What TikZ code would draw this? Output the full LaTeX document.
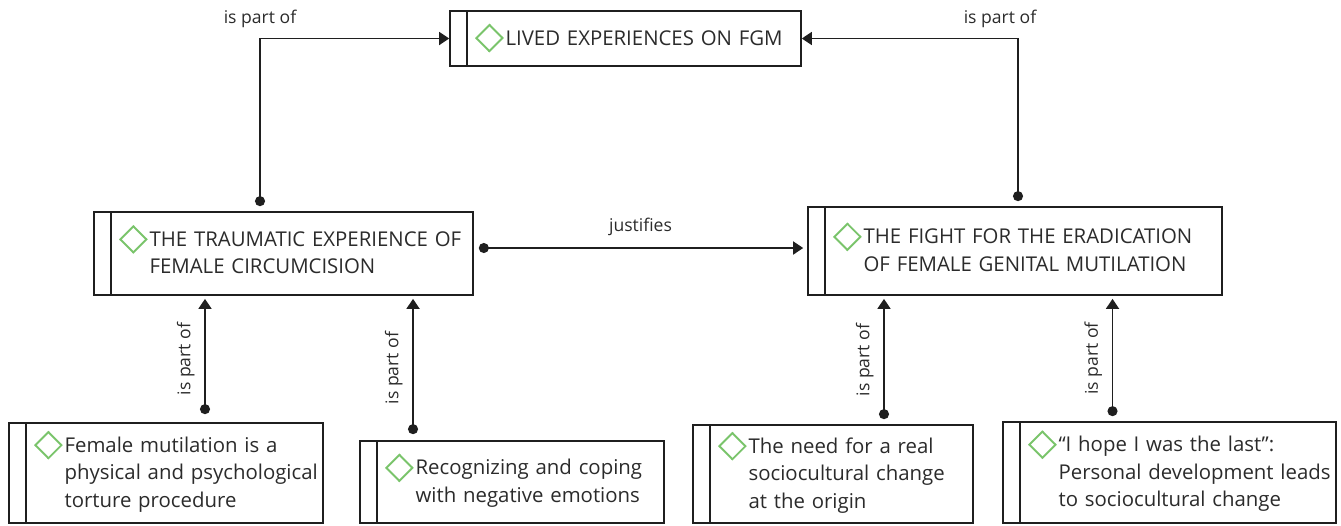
\documentclass[tikz,border=0pt]{standalone}
\usepackage{fontspec}
\setmainfont{Open Sans}
\usetikzlibrary{arrows.meta}
\definecolor{gemgreen}{rgb}{0.48, 0.77, 0.42}
\definecolor{textgray}{rgb}{0.17, 0.17, 0.17}
\definecolor{linegray}{rgb}{0.12, 0.12, 0.12}
\newcommand{\boxfont}{\fontsize{11.6}{15.6}\selectfont}
\newcommand{\lblfont}{\fontsize{10}{12}\selectfont}
\newcommand{\gem}{\raisebox{-3.4pt}{\rotatebox{45}{\textcolor{gemgreen}{\setlength{\fboxrule}{1.1pt}\setlength{\fboxsep}{0pt}\fbox{\rule{0pt}{0.33cm}\hspace{0.33cm}}}}}}
\newcommand{\codetext}[1]{\mbox{\hspace*{0.5cm}\gem\hspace{1pt}\begin{tabular}[t]{@{}l@{}}#1\end{tabular}}}

\begin{document}
\begin{tikzpicture}[x=0.02cm, y=-0.02cm,
        code/.style 2 args={draw=linegray, line width=1pt, text width=#1, minimum height=#2,
            inner xsep=0pt, align=left, font=\boxfont, text=textgray,
            path picture={\draw[linegray, line width=1pt]
                ([xshift=0.34cm]path picture bounding box.north west) --
                ([xshift=0.34cm]path picture bounding box.south west);}},
        rel/.style={draw=linegray, line width=1pt,
            {Circle[length=0.2cm]}-{Triangle[length=0.2cm, width=0.26cm]}},
        lbl/.style={font=\lblfont, text=textgray, inner sep=2pt}]
        \useasboundingbox (0, 0) rectangle (1341, 525);
        \node[code={7.02cm}{1.1cm}] (lived) at (625.5, 38.5) {\codetext{LIVED EXPERIENCES ON FGM}};
        \node[code={7.58cm}{1.66cm}] (trauma) at (283.5, 253.5) {\codetext{THE TRAUMATIC EXPERIENCE OF\\FEMALE CIRCUMCISION}};
        \node[code={8.28cm}{1.76cm}] (fight) at (1015, 251) {\codetext{THE FIGHT FOR THE ERADICATION\\OF FEMALE GENITAL MUTILATION}};
        \node[code={6.28cm}{2cm}] (torture) at (166, 473) {\codetext{Female mutilation is a\\physical and psychological\\torture procedure}};
        \node[code={6.08cm}{1.64cm}] (emotions) at (512, 482) {\codetext{Recognizing and coping\\with negative emotions}};
        \node[code={5.6cm}{1.96cm}] (change) at (833, 474) {\codetext{The need for a real\\sociocultural change\\at the origin}};
        \node[code={6.66cm}{2.02cm}] (hope) at (1169.5, 472.5) {\codetext{“I hope I was the last”:\\Personal development leads\\to sociocultural change}};
        \draw[rel, shorten <=0.1cm] ([xshift=-0.47cm]trauma.north) |- (lived.west)
            node[pos=0.5, above=0.12cm, lbl] {is part of};
        \draw[rel, shorten <=0.1cm] ([xshift=0.06cm]fight.north) |- (lived.east)
            node[pos=0.5, above=0.12cm, xshift=-0.36cm, lbl] {is part of};
        \draw[rel, shorten <=0.1cm, shorten >=0.08cm] ([yshift=0.11cm]trauma.east) -- ([yshift=0.11cm]trauma.east -| fight.west)
            node[midway, above=0.15cm, lbl] {justifies};
        \draw[rel, shorten <=0.16cm, shorten >=0.06cm] ([xshift=0.78cm]torture.north) -- ([xshift=0.78cm]torture.north |- trauma.south)
            node[midway, above=0.12cm, sloped, lbl] {is part of};
        \draw[rel, shorten <=0.12cm, shorten >=0.06cm] ([xshift=-1.98cm]emotions.north) -- ([xshift=-1.98cm]emotions.north |- trauma.south)
            node[midway, above=0.12cm, sloped, lbl] {is part of};
        \draw[rel, shorten <=0.1cm, shorten >=0.06cm] ([xshift=1.02cm]change.north) -- ([xshift=1.02cm]change.north |- fight.south)
            node[midway, above=0.12cm, sloped, lbl] {is part of};
        \draw[rel, shorten <=0.1cm, shorten >=0.06cm] ([xshift=-1.14cm]hope.north) -- ([xshift=-1.14cm]hope.north |- fight.south)
            node[midway, above=0.12cm, sloped, lbl] {is part of};
\end{tikzpicture}
\end{document}
